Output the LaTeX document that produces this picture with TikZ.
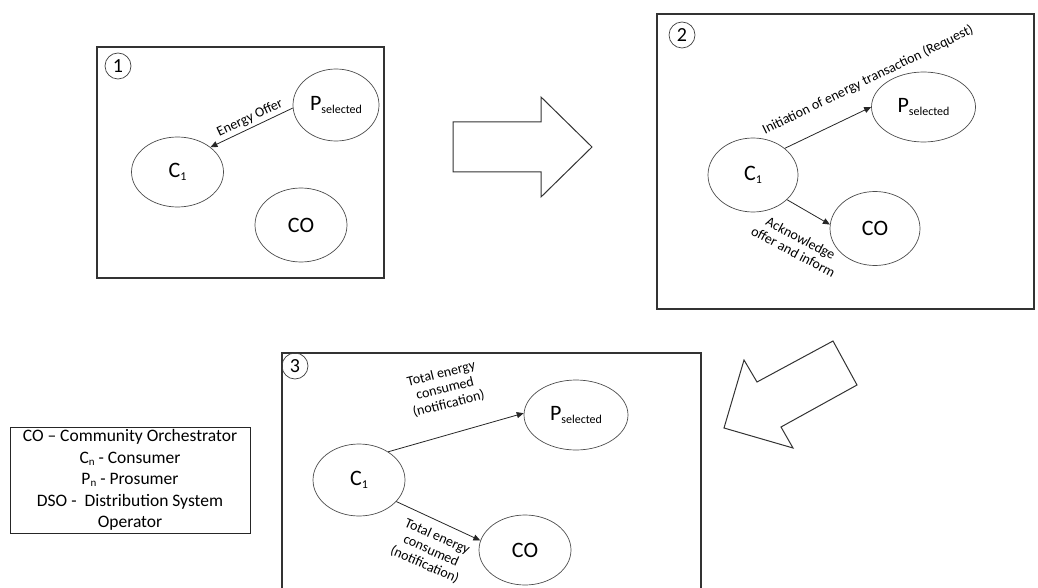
\documentclass[tikz,border=0pt]{standalone}
\usepackage{fontspec}
\setmainfont{Carlito}
\usetikzlibrary{arrows.meta,shapes.geometric}

\newcommand{\subtxt}[2][12]{\raisebox{-0.12em}{\fontsize{#1}{#1}\selectfont #2}}
\newcommand{\psel}{P\subtxt{selected}}
\newcommand{\cone}{C\subtxt{1}}

\begin{document}
\begin{tikzpicture}[x=1pt,y=-1pt,
  panel/.style={draw=black!80, line width=1.2pt},
  actor/.style={ellipse, draw=black!70, line width=0.7pt, inner sep=0pt,
                font=\fontsize{22}{22}\selectfont},
  stepnum/.style={circle, draw=black!75, line width=0.7pt, minimum size=26pt,
                  inner sep=0pt, font=\fontsize{20}{20}\selectfont},
  msg/.style={-{Triangle[length=7pt,width=6pt]}, line width=0.8pt, draw=black!85},
  lbl/.style={font=\fontsize{14}{15.5}\selectfont, align=center, inner sep=0pt},
  bigarrow/.style={draw=black!80, line width=1pt, line join=miter},
  legendbox/.style={draw=black!85, line width=1pt, align=center,
                    font=\fontsize{17.5}{21.5}\selectfont, inner sep=0pt}]
\useasboundingbox (0,0) rectangle (1038,588);
\clip (0,0) rectangle (1038,588);

% ---------- step 1 ----------
\draw[panel] (97,47) rectangle (384,278);
\node[stepnum] (n1) at (118,66) {1};
\node[actor, minimum width=86pt, minimum height=72pt] (p1) at (336,105) {\psel};
\node[actor, minimum width=92pt, minimum height=70pt] (c1) at (177.5,172) {\cone};
\node[actor, minimum width=92pt, minimum height=74pt] (o1) at (301,225) {CO};
\draw[msg] (p1.184) -- (c1.37);
\node[lbl, rotate=25] (l1) at (250,118) {Energy Offer};

% ---------- transition 1 -> 2 ----------
\draw[bigarrow] (453,122) -- (541,122) -- (541,97) -- (592,147)
  -- (541,197) -- (541,172) -- (453,172) -- cycle;

% ---------- step 2 ----------
\draw[panel] (657,14) rectangle (1034,309);
\node[stepnum] (n2) at (682,35) {2};
\node[actor, minimum width=104pt, minimum height=70pt] (p2) at (923.5,107) {\psel};
\node[actor, minimum width=90pt, minimum height=74pt] (c2) at (753,175) {\cone};
\node[actor, minimum width=90pt, minimum height=74pt] (o2) at (875,228.5) {CO};
\draw[msg] (c2.40) -- (p2.180);
\draw[msg] (c2.-36) -- (o2.175);
\node[lbl, rotate=26] (l2a) at (868,80) {Initiation of energy transaction (Request)};
\node[lbl, rotate=-28] (l2b) at (797,245) {Acknowledge\\offer and inform};

% ---------- transition 2 -> 3 ----------
\draw[bigarrow] (833,341) -- (857,385) -- (781,427) -- (793,448)
  -- (724,428) -- (744,360) -- (757,382) -- cycle;

% ---------- step 3 ----------
\draw[panel] (282,353) rectangle (701,600);
\node[stepnum] (n3) at (295,366) {3};
\node[actor, minimum width=104pt, minimum height=70pt] (p3) at (576,415) {\psel};
\node[actor, minimum width=92pt, minimum height=72pt] (c3) at (359,480) {\cone};
\node[actor, minimum width=92pt, minimum height=70pt] (o3) at (525,550) {CO};
\draw[msg] (c3.44) -- (p3.178);
\draw[msg] (c3.-30) -- (o3.168);
\node[lbl, rotate=14] (l3a) at (445,389) {Total energy\\consumed\\(notification)};
\node[lbl, rotate=-24] (l3b) at (431,551) {Total energy\\consumed\\(notification)};

% ---------- legend ----------
\node[legendbox, minimum width=240pt, minimum height=106pt] (legend) at (130,480)
  {CO -- Community Orchestrator\\
   C\subtxt[11]{n} - Consumer\\
   P\subtxt[11]{n} - Prosumer\\
   DSO -\ \ Distribution System\\
   Operator};
\end{tikzpicture}
\end{document}
